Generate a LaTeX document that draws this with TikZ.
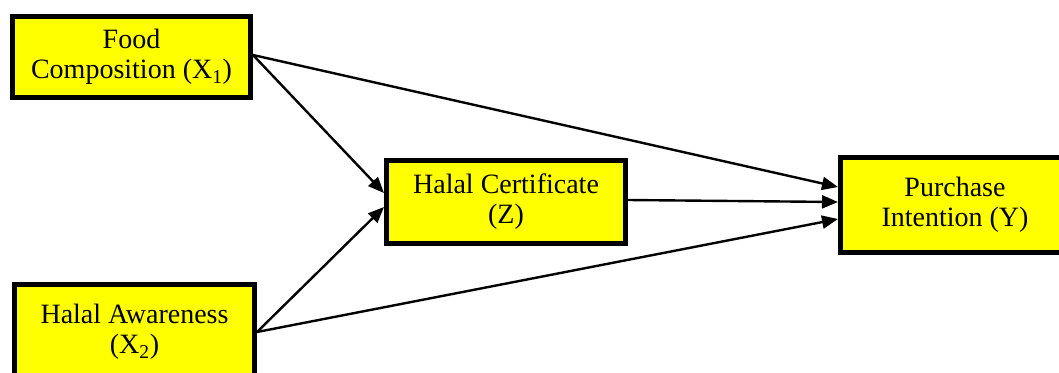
\documentclass[tikz,border=0pt]{standalone}
\usepackage{fontspec}
\setmainfont{Liberation Serif}
\usetikzlibrary{arrows.meta}
\definecolor{boxyellow}{RGB}{255,255,0}
\begin{document}
\begin{tikzpicture}[x=1pt,y=-1pt,
  varbox/.style={draw=black, line width=5pt, fill=boxyellow, align=center, inner sep=0pt,
    font=\fontsize{28}{30}\selectfont},
  conn/.style={line width=2.4pt, -{Triangle[length=16pt,width=13pt]}}]
\useasboundingbox (0,0) rectangle (1059,372);
\begin{scope}
\clip (0,0) rectangle (1059,372);
\node[varbox, minimum width=238pt, minimum height=81pt] (food) at (131.5,57) {\raisebox{-2pt}{Food}\\\raisebox{-2pt}{Composition (X\textsubscript{1})}};
\node[varbox, minimum width=239pt, minimum height=83pt] (hc) at (506,202) {Halal Certificate\\(Z)};
\node[varbox, minimum width=229pt, minimum height=95pt] (pi) at (955,205) {Purchase\\Intention (Y)};
\node[varbox, minimum width=240pt, minimum height=95pt] (ha) at (134.5,332) {Halal Awareness\\(X\textsubscript{2})};
\draw[conn] ([yshift=2pt]food.east) -- ([yshift=18pt]pi.west);
\draw[conn] ([yshift=2pt]food.east) -- ([yshift=9pt]hc.west);
\draw[conn] ([yshift=2pt]hc.east) -- ([yshift=3pt]pi.west);
\draw[conn] (ha.east) -- ([yshift=-5pt]hc.west);
\draw[conn] (ha.east) -- ([yshift=-14pt]pi.west);
\end{scope}
\end{tikzpicture}
\end{document}
